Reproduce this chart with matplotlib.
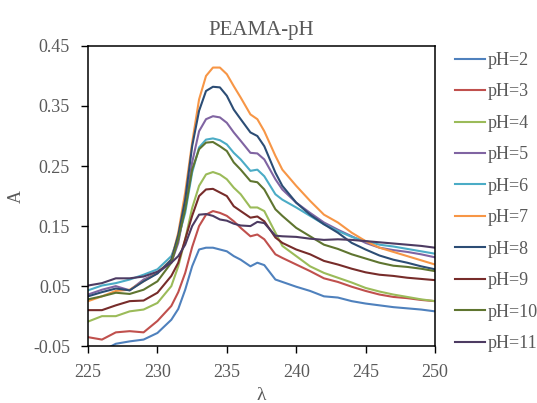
import matplotlib
matplotlib.use('Agg')
import matplotlib.pyplot as plt

# wavelength grid (nm)
wavelength = [225, 226, 227, 228, 229, 230, 231, 231.5, 232, 232.5, 233, 233.5, 234, 234.5,
              235, 235.5, 236, 236.7, 237.2, 237.7, 238.5, 239, 240, 241, 242, 243, 244,
              245, 246, 247, 248, 249, 250]

labels = ['pH=2', 'pH=3', 'pH=4', 'pH=5', 'pH=6', 'pH=7', 'pH=8', 'pH=9', 'pH=10', 'pH=11']

ph2 = [-0.065, -0.058, -0.046, -0.042, -0.039, -0.028, -0.006, 0.012, 0.044, 0.083, 0.111, 0.114,
       0.114, 0.111, 0.108, 0.100, 0.094, 0.083, 0.089, 0.085, 0.061, 0.057, 0.049, 0.042, 0.033,
       0.031, 0.025, 0.021, 0.018, 0.015, 0.013, 0.011, 0.008]
ph3 = [-0.035, -0.039, -0.027, -0.025, -0.027, -0.008, 0.017, 0.040, 0.072, 0.115, 0.150, 0.169,
       0.175, 0.172, 0.167, 0.158, 0.147, 0.133, 0.136, 0.128, 0.103, 0.097, 0.086, 0.075, 0.063,
       0.057, 0.049, 0.042, 0.036, 0.032, 0.030, 0.027, 0.025]
ph4 = [-0.009, 0.0, 0.0, 0.008, 0.011, 0.022, 0.050, 0.083, 0.128, 0.180, 0.217, 0.236, 0.240,
       0.236, 0.228, 0.214, 0.203, 0.181, 0.181, 0.175, 0.139, 0.117, 0.100, 0.083, 0.072, 0.064,
       0.056, 0.047, 0.041, 0.036, 0.032, 0.028, 0.025]
ph5 = [0.036, 0.044, 0.050, 0.043, 0.061, 0.072, 0.089, 0.122, 0.183, 0.256, 0.308, 0.328, 0.333,
       0.331, 0.322, 0.306, 0.292, 0.272, 0.271, 0.261, 0.228, 0.211, 0.189, 0.172, 0.156, 0.144,
       0.133, 0.122, 0.114, 0.110, 0.107, 0.103, 0.098]
ph6 = [0.043, 0.051, 0.055, 0.061, 0.069, 0.078, 0.100, 0.130, 0.172, 0.239, 0.281, 0.294, 0.296,
       0.293, 0.286, 0.272, 0.261, 0.242, 0.244, 0.233, 0.203, 0.194, 0.181, 0.167, 0.153, 0.142,
       0.132, 0.125, 0.119, 0.116, 0.112, 0.108, 0.104]
ph7 = [0.025, 0.033, 0.042, 0.044, 0.058, 0.072, 0.094, 0.139, 0.206, 0.289, 0.361, 0.400, 0.414,
       0.414, 0.403, 0.383, 0.364, 0.336, 0.328, 0.308, 0.267, 0.244, 0.217, 0.192, 0.169, 0.156,
       0.139, 0.125, 0.114, 0.107, 0.100, 0.093, 0.086]
ph8 = [0.033, 0.040, 0.046, 0.043, 0.058, 0.071, 0.094, 0.135, 0.194, 0.283, 0.342, 0.375, 0.382,
       0.381, 0.367, 0.344, 0.328, 0.306, 0.300, 0.283, 0.239, 0.217, 0.189, 0.169, 0.153, 0.139,
       0.122, 0.111, 0.101, 0.094, 0.089, 0.083, 0.078]
ph9 = [0.010, 0.010, 0.018, 0.025, 0.026, 0.039, 0.067, 0.089, 0.128, 0.167, 0.200, 0.211, 0.212,
       0.206, 0.200, 0.183, 0.175, 0.164, 0.166, 0.158, 0.131, 0.122, 0.111, 0.103, 0.092, 0.086,
       0.079, 0.073, 0.069, 0.067, 0.064, 0.062, 0.060]
ph10 = [0.028, 0.033, 0.039, 0.037, 0.044, 0.058, 0.089, 0.128, 0.178, 0.244, 0.278, 0.289, 0.290,
        0.283, 0.275, 0.256, 0.244, 0.225, 0.223, 0.211, 0.178, 0.167, 0.147, 0.133, 0.119, 0.112,
        0.103, 0.096, 0.089, 0.084, 0.082, 0.079, 0.075]
ph11 = [0.051, 0.055, 0.063, 0.063, 0.066, 0.074, 0.089, 0.100, 0.119, 0.150, 0.169, 0.170, 0.167,
        0.161, 0.159, 0.154, 0.151, 0.150, 0.157, 0.155, 0.134, 0.133, 0.132, 0.129, 0.127, 0.128,
        0.127, 0.125, 0.123, 0.121, 0.119, 0.117, 0.114]

series = [ph2, ph3, ph4, ph5, ph6, ph7, ph8, ph9, ph10, ph11]
colors = ['#4F81BD', '#C0504D', '#9BBB59', '#8064A2', '#4BACC6',
          '#F79646', '#2C4D75', '#772C2A', '#5F7530', '#4D3B62']

plt.rcParams['font.family'] = ['Liberation Serif', 'DejaVu Serif']
grey = '#595959'

fig = plt.figure(figsize=(5.37, 4.03), dpi=100)
ax = fig.add_axes([0.164, 0.141, 0.646, 0.745])

for y, c, lab in zip(series, colors, labels):
    ax.plot(wavelength, y, color=c, lw=1.5, label=lab)

ax.set_xlim(225, 250)
ax.set_ylim(-0.05, 0.45)
ax.set_xticks([225, 230, 235, 240, 245, 250])
ax.set_yticks([-0.05, 0.05, 0.15, 0.25, 0.35, 0.45])
ax.set_yticklabels(['-0.05', '0.05', '0.15', '0.25', '0.35', '0.45'])
ax.tick_params(labelsize=13, labelcolor=grey, length=5, width=1, direction='out')
ax.tick_params(axis='y', pad=8)
ax.tick_params(axis='x', pad=8)
for s in ax.spines.values():
    s.set_linewidth(1.1)
    s.set_color('black')

ax.set_title('PEAMA-pH', fontsize=15, color=grey, pad=8)
ax.set_xlabel('λ', fontsize=14, color=grey, labelpad=4)
ax.set_ylabel('A', fontsize=13, color=grey, labelpad=6)

leg = fig.legend(loc='upper left', bbox_to_anchor=(455 / 537, 351 / 403), frameon=False,
                 fontsize=13, handlelength=1.66, handletextpad=0.15, labelspacing=0.8,
                 borderpad=0, borderaxespad=0)
for t in leg.get_texts():
    t.set_color(grey)

fig.savefig('out.png', dpi=100)
